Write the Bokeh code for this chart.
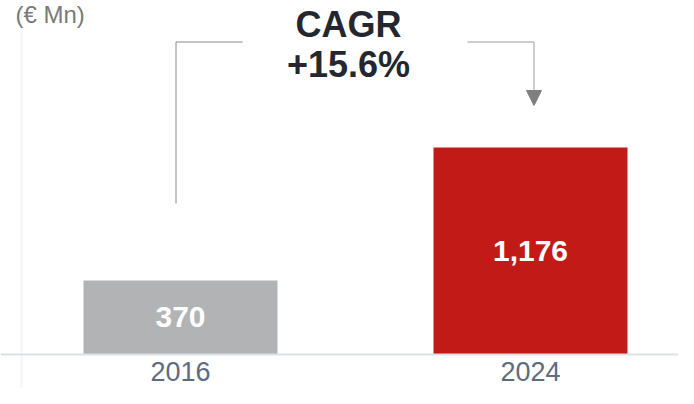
from bokeh.plotting import figure
from bokeh.models import Range1d, Span, Label, Arrow, NormalHead, ColumnDataSource
from bokeh.core.properties import value
from bokeh.embed import file_html
from bokeh.resources import INLINE

# ---- data ----
categories = ["2016", "2024"]
values = [370, 1176]
value_labels = ["370", "1,176"]
bar_colors = ["#b2b3b5", "#c21a17"]
cagr_title = "CAGR"
cagr_value = "+15.6%"
unit_label = "(€ Mn)"

# ---- layout constants (canvas pixel -> data helpers) ----
W, H = 678, 388
BASE = -78.5           # value at the baseline of the plot
S = 0.16501            # pixels per value unit
CX0, PXCAT = 180, 350  # x of first category centre, pixels per category


def dx(px):
    return (px - CX0) / PXCAT


def dy(py):
    return BASE + (354 - py) / S


p = figure(width=W, height=H,
           x_range=Range1d(dx(0), dx(W)), y_range=Range1d(dy(H), dy(0)),
           output_backend="svg", toolbar_location=None,
           x_axis_location=None, y_axis_location=None, min_border=0)
p.grid.visible = False
p.outline_line_color = None
p.background_fill_color = "white"
p.border_fill_color = "white"

xs = list(range(len(categories)))
src = ColumnDataSource(dict(
    x=xs, top=values, color=bar_colors, label=value_labels, cat=categories,
    mid=[(BASE + v) / 2 for v in values],
))

# faint vertical guide
p.add_layout(Span(location=dx(21), dimension="height", line_color="#f5f5f5", line_width=2))

p.vbar(x="x", top="top", bottom=BASE, width=194 / PXCAT, fill_color="color",
       line_color=None, source=src)

# baseline
p.add_layout(Span(location=BASE, dimension="width", line_color="#dde1e7", line_width=2))

# value labels inside bars
p.text(x="x", y="mid", text="label", source=src, text_color="white",
       text_font=value("Liberation Sans"), text_font_style="bold",
       text_font_size="30px", text_align="center", text_baseline="middle")

# category labels
p.text(x="x", y=dy(371), text="cat", source=src, text_color="#5e6b7f",
       text_font=value("Liberation Sans"), text_font_size="27px",
       text_align="center", text_baseline="middle")

# CAGR bracket
p.line(x=[dx(175.5), dx(175.5), dx(242)], y=[dy(203), dy(41.5), dy(41.5)],
       line_color="#8a8a8a", line_width=1)
p.line(x=[dx(467), dx(533.5)], y=[dy(41.5), dy(41.5)],
       line_color="#9c9c9c", line_width=1)
p.add_layout(Arrow(x_start=dx(533.5), y_start=dy(41.5), x_end=dx(533.5), y_end=dy(105),
                   line_color="#9c9c9c", line_width=1,
                   end=NormalHead(size=15, fill_color="#7f7f7f", line_color="#7f7f7f")))

for txt, mid_y in ((cagr_title, 23.5), (cagr_value, 63.5)):
    p.add_layout(Label(x=dx(348), y=dy(mid_y), text=txt, text_align="center",
                       text_baseline="middle", text_font="Liberation Sans",
                       text_font_style="bold", text_font_size="36px",
                       text_color="#24282e"))

# unit label (top-left)
p.add_layout(Label(x=dx(15), y=dy(14), text=unit_label, text_align="left",
                   text_baseline="middle", text_font="Liberation Sans",
                   text_font_size="24px", text_color="#7a7a7a"))

open("out.html", "w").write(file_html(p, INLINE))
